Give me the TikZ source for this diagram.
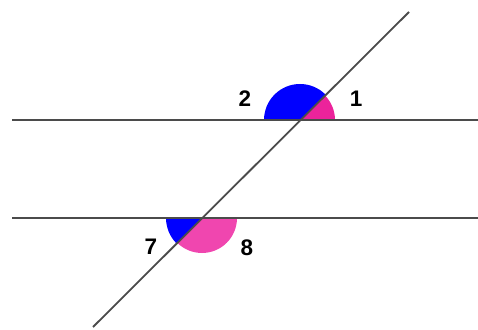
\documentclass[tikz,border=0pt]{standalone}
\usepackage{fontspec}
\setmainfont{Liberation Sans}
\definecolor{angpink}{RGB}{236,35,155}
\definecolor{angpinklight}{RGB}{240,70,175}
\definecolor{linegray}{RGB}{75,75,75}
\tikzset{
  parline/.style={line width=1.8pt,linegray},
  anglabel/.style={font=\bfseries\fontsize{22.5}{22.5}\selectfont,inner sep=0pt}
}

\begin{document}
\begin{tikzpicture}[x=1pt,y=1pt]
\path[use as bounding box] (0,0) rectangle (478,329);
\coordinate (P) at (300,209);
\coordinate (Q) at (202,111);

% angles at the upper line
\fill[angpink] (P) -- ++(35,0) arc[start angle=0,end angle=45,radius=35] -- cycle;
\fill[blue] (P) -- ++(45:36) arc[start angle=45,end angle=180,radius=36] -- cycle;
% angles at the lower line
\fill[blue] (Q) -- ++(180:36) arc[start angle=180,end angle=225,radius=36] -- cycle;
\fill[angpinklight] (Q) -- ++(225:35) arc[start angle=225,end angle=360,radius=35] -- cycle;

\foreach \y in {209,111}{
  \draw[parline] (12,\y) -- (478,\y);
}
\draw[parline] (93,2) -- (409,317);

\node[anglabel] (two) at (245,230) {2};
\node[anglabel] (one) at (356,230) {1};
\node[anglabel] (seven) at (151,82) {7};
\node[anglabel] (eight) at (247,81) {8};
\end{tikzpicture}
\end{document}
